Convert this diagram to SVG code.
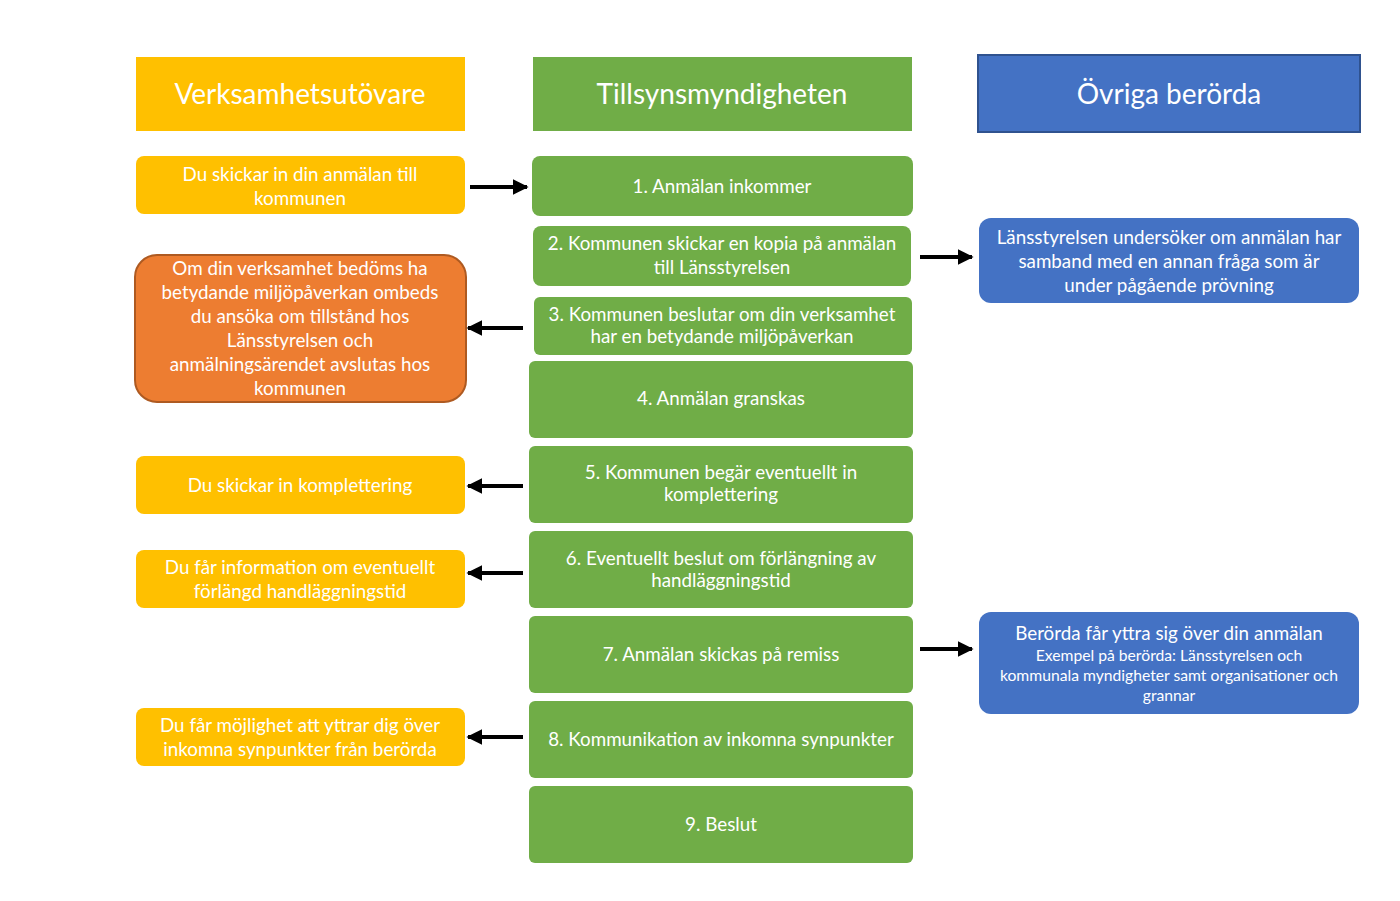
<svg xmlns="http://www.w3.org/2000/svg" width="1400" height="901" viewBox="0 0 1400 901">
<style>
text{font-family:Lato,"Open Sans","Noto Sans",sans-serif;fill:#fff;text-anchor:middle}
.h{font-size:28px}
.t{font-size:18.8px}
.s{font-size:15.7px}
.y{fill:#FFC000}
.g{fill:#70AD47}
.b{fill:#4472C4}
.o{fill:#ED7D31;stroke:#AE5A21;stroke-width:2}
.c{stroke:#000;stroke-width:4;fill:none}
</style>
<defs>
<marker id="ah" viewBox="0 0 10 10" refX="9" refY="5" markerWidth="4" markerHeight="4" orient="auto" markerUnits="strokeWidth">
<path d="M0,0L10,5L0,10z" fill="#000"/>
</marker>
</defs>
<rect width="1400" height="901" fill="#fff"/>
<g id="h1"><rect class="y" x="136" y="57" width="329" height="74"/><text class="h" x="300" y="104">Verksamhetsutövare</text></g>
<g id="h2"><rect class="g" x="533" y="57" width="379" height="74"/><text class="h" x="722" y="104">Tillsynsmyndigheten</text></g>
<g id="h3"><rect class="b" x="978" y="55" width="382" height="77" stroke="#2F528F" stroke-width="2"/><text class="h" x="1169" y="104">Övriga berörda</text></g>

<g id="y1"><rect class="y" x="136" y="156" width="329" height="58" rx="8"/><text class="t" x="300" y="181">Du skickar in din anmälan till</text><text class="t" x="300" y="205">kommunen</text></g>
<g id="o1"><rect class="o" x="135" y="255" width="331" height="147" rx="22"/>
<text class="t" x="300" y="275">Om din verksamhet bedöms ha</text>
<text class="t" x="300" y="299">betydande miljöpåverkan ombeds</text>
<text class="t" x="300" y="323">du ansöka om tillstånd hos</text>
<text class="t" x="300" y="347">Länsstyrelsen och</text>
<text class="t" x="300" y="371">anmälningsärendet avslutas hos</text>
<text class="t" x="300" y="395">kommunen</text></g>
<g id="y2"><rect class="y" x="136" y="456" width="329" height="58" rx="8"/><text class="t" x="300" y="492">Du skickar in komplettering</text></g>
<g id="y3"><rect class="y" x="136" y="550" width="329" height="58" rx="8"/><text class="t" x="300" y="574">Du får information om eventuellt</text><text class="t" x="300" y="598">förlängd handläggningstid</text></g>
<g id="y4"><rect class="y" x="136" y="708" width="329" height="58" rx="8"/><text class="t" x="300" y="732">Du får möjlighet att yttrar dig över</text><text class="t" x="300" y="756">inkomna synpunkter från berörda</text></g>

<g id="s1"><rect class="g" x="532" y="156" width="381" height="60" rx="8"/><text class="t" x="722" y="193">1. Anmälan inkommer</text></g>
<g id="s2"><rect class="g" x="533" y="226" width="378" height="60" rx="8"/><text class="t" x="722" y="250">2. Kommunen skickar en kopia på anmälan</text><text class="t" x="722" y="274">till Länsstyrelsen</text></g>
<g id="s3"><rect class="g" x="534" y="297" width="378" height="58" rx="6"/><text class="t" x="722" y="321">3. Kommunen beslutar om din verksamhet</text><text class="t" x="722" y="343">har en betydande miljöpåverkan</text></g>
<g id="s4"><rect class="g" x="529" y="361" width="384" height="77" rx="6"/><text class="t" x="721" y="405">4. Anmälan granskas</text></g>
<g id="s5"><rect class="g" x="529" y="446" width="384" height="77" rx="6"/><text class="t" x="721" y="479">5. Kommunen begär eventuellt in</text><text class="t" x="721" y="501">komplettering</text></g>
<g id="s6"><rect class="g" x="529" y="531" width="384" height="77" rx="6"/><text class="t" x="721" y="565">6. Eventuellt beslut om förlängning av</text><text class="t" x="721" y="587">handläggningstid</text></g>
<g id="s7"><rect class="g" x="529" y="616" width="384" height="77" rx="6"/><text class="t" x="721" y="661">7. Anmälan skickas på remiss</text></g>
<g id="s8"><rect class="g" x="529" y="701" width="384" height="77" rx="6"/><text class="t" x="721" y="746">8. Kommunikation av inkomna synpunkter</text></g>
<g id="s9"><rect class="g" x="529" y="786" width="384" height="77" rx="6"/><text class="t" x="721" y="831">9. Beslut</text></g>

<g id="b1"><rect class="b" x="979" y="218" width="380" height="85" rx="12"/>
<text class="t" x="1169" y="244">Länsstyrelsen undersöker om anmälan har</text>
<text class="t" x="1169" y="268">samband med en annan fråga som är</text>
<text class="t" x="1169" y="292">under pågående prövning</text></g>
<g id="b2"><rect class="b" x="979" y="612" width="380" height="102" rx="12"/>
<text class="t" x="1169" y="640">Berörda får yttra sig över din anmälan</text>
<text class="s" x="1169" y="661">Exempel på berörda: Länsstyrelsen och</text>
<text class="s" x="1169" y="681">kommunala myndigheter samt organisationer och</text>
<text class="s" x="1169" y="701">grannar</text></g>

<g id="connectors">
<line class="c" x1="470" y1="187" x2="527" y2="187" marker-end="url(#ah)"/>
<line class="c" x1="920" y1="257" x2="972" y2="257" marker-end="url(#ah)"/>
<line class="c" x1="523" y1="328" x2="468" y2="328" marker-end="url(#ah)"/>
<line class="c" x1="523" y1="486" x2="468" y2="486" marker-end="url(#ah)"/>
<line class="c" x1="523" y1="573" x2="468" y2="573" marker-end="url(#ah)"/>
<line class="c" x1="920" y1="649" x2="972" y2="649" marker-end="url(#ah)"/>
<line class="c" x1="523" y1="737" x2="468" y2="737" marker-end="url(#ah)"/>
</g>
</svg>
